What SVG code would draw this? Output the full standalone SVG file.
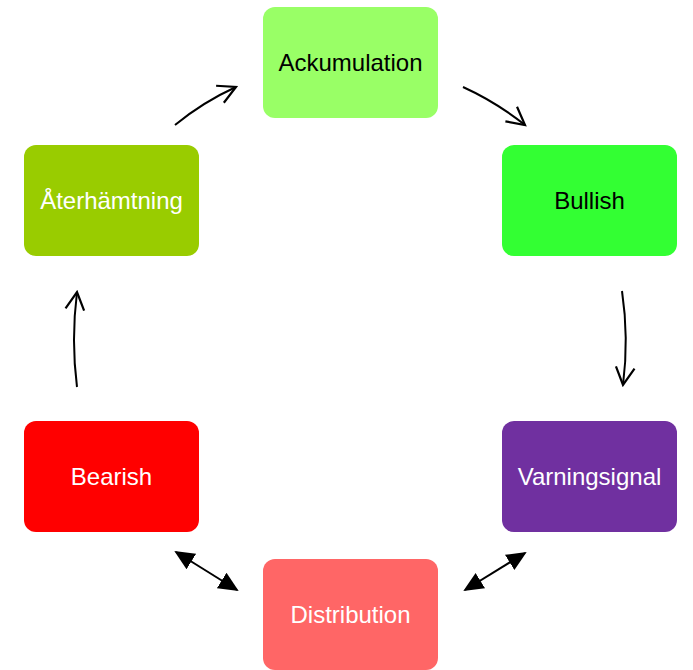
<svg xmlns="http://www.w3.org/2000/svg" width="693" height="670" viewBox="0 0 693 670">
<style>
.box{stroke:none}
.t{font-family:"Liberation Sans",Arial,sans-serif;font-size:24px;text-anchor:middle;dominant-baseline:central}
.w{fill:#ffffff}
.b{fill:#000000}
.c{fill:none;stroke:#000;stroke-width:2}
.d{fill:none;stroke:#000;stroke-width:2}
</style>
<defs>
<marker id="open" viewBox="0 0 20 20" refX="18" refY="10" markerWidth="22" markerHeight="22" markerUnits="userSpaceOnUse" orient="auto">
<path d="M2,1.5 L18,10 L2,18.5" fill="none" stroke="#000" stroke-width="2"/>
</marker>
<marker id="tri" viewBox="0 0 10 10" refX="9" refY="5" markerWidth="20" markerHeight="20" markerUnits="userSpaceOnUse" orient="auto-start-reverse">
<path d="M0,0.5 L10,5 L0,9.5 Z" fill="#000"/>
</marker>
</defs>
<rect width="693" height="670" fill="#fff"/>
<g id="connectors">
<path class="c" d="M175,125 Q203,102 236,87" marker-end="url(#open)"/>
<path class="c" d="M463,87 Q496,102 525,125" marker-end="url(#open)"/>
<path class="c" d="M622,291 Q629,338 623,385" marker-end="url(#open)"/>
<path class="c" d="M77,387 Q71,340 77,292" marker-end="url(#open)"/>
<path class="d" d="M176,552 L237,590" marker-start="url(#tri)" marker-end="url(#tri)"/>
<path class="d" d="M465,590 L525,553" marker-start="url(#tri)" marker-end="url(#tri)"/>
</g>
<g id="ackumulation">
<rect class="box" x="263" y="7" width="175" height="111" rx="12" fill="#99ff66"/>
<text class="t b" x="350.5" y="62">Ackumulation</text>
</g>
<g id="bullish">
<rect class="box" x="502" y="145" width="175" height="111" rx="12" fill="#33ff33"/>
<text class="t b" x="589.5" y="200">Bullish</text>
</g>
<g id="varningsignal">
<rect class="box" x="502" y="421" width="175" height="111" rx="12" fill="#7030a0"/>
<text class="t w" x="589.5" y="476">Varningsignal</text>
</g>
<g id="distribution">
<rect class="box" x="263" y="559" width="175" height="111" rx="12" fill="#ff6666"/>
<text class="t w" x="350.5" y="614">Distribution</text>
</g>
<g id="bearish">
<rect class="box" x="24" y="421" width="175" height="111" rx="12" fill="#ff0000"/>
<text class="t w" x="111.5" y="476">Bearish</text>
</g>
<g id="aterhamtning">
<rect class="box" x="24" y="145" width="175" height="111" rx="12" fill="#99cc00"/>
<text class="t w" x="111.5" y="200">Återhämtning</text>
</g>
</svg>
